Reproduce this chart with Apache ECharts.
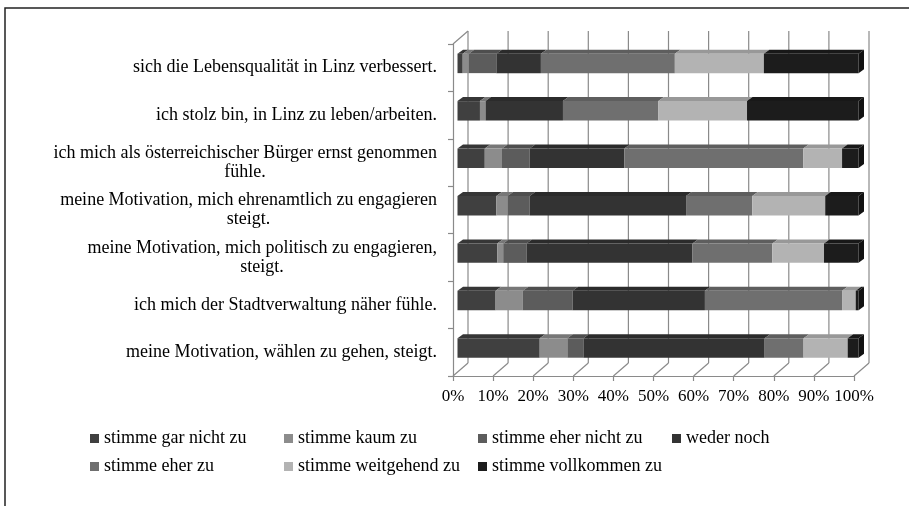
<!DOCTYPE html>
<html>
<head>
<meta charset="utf-8">
<script src="https://cdn.jsdelivr.net/npm/echarts@6/dist/echarts.min.js"></script>
<style>
html,body{margin:0;padding:0;background:#fff;}
#chart{width:909px;height:506px;}
</style>
</head>
<body>
<div id="chart"></div>
<script>
// ---- data ----
var categories = [
  'sich die Lebensqualität in Linz verbessert.',
  'ich stolz bin, in Linz zu leben/arbeiten.',
  'ich mich als österreichischer Bürger ernst genommen\nfühle.',
  'meine Motivation, mich ehrenamtlich zu engagieren\nsteigt.',
  'meine Motivation, mich politisch zu engagieren,\nsteigt.',
  'ich mich der Stadtverwaltung näher fühle.',
  'meine Motivation, wählen zu gehen, steigt.'
];
var seriesNames = ['stimme gar nicht zu','stimme kaum zu','stimme eher nicht zu','weder noch','stimme eher zu','stimme weitgehend zu','stimme vollkommen zu'];
var garNicht   = [1.3, 5.6, 6.8, 9.7, 9.9, 9.5, 20.5];
var kaum       = [1.5, 1.4, 4.3, 2.8, 1.5, 6.8, 6.9];
var eherNicht  = [6.9, 0.0, 6.9, 5.5, 5.8, 12.4, 4.0];
var wederNoch  = [11.1, 19.3, 23.6, 39.0, 41.4, 33.0, 45.2];
var eherZu     = [33.4, 23.8, 44.6, 16.5, 19.9, 34.2, 9.7];
var weitgehend = [22.2, 22.1, 9.7, 18.2, 12.9, 3.4, 11.0];
var vollkommen = [23.6, 27.8, 4.1, 8.3, 8.6, 0.7, 2.7];
var xTicks = [0, 10, 20, 30, 40, 50, 60, 70, 80, 90, 100];

// ---- styles ----
var colors = ['#404040','#8c8c8c','#5c5c5c','#333333','#6f6f6f','#b3b3b3','#1c1c1c'];
var FONT = '"Liberation Serif", "Times New Roman", serif';
var FS = 18;      // category labels & legend
var FS_AX = 17;   // x axis labels
var DX = 15, DY = -13;          // wall depth
var BOX = 4.5, BOY = -4.3;      // bar front face offset from front plane
var BDX = 5.5, BDY = -4;        // bar depth
var BAR_FRAC = 0.41;

var allVals = [garNicht, kaum, eherNicht, wederNoch, eherZu, weitgehend, vollkommen];

function shade(hex, f) {
  var n = parseInt(hex.slice(1), 16);
  var r = Math.round(((n >> 16) & 255) * f), g = Math.round(((n >> 8) & 255) * f), b = Math.round((n & 255) * f);
  return 'rgb(' + r + ',' + g + ',' + b + ')';
}

// cumulative segments (100% stacked)
var segData = allVals.map(function () { return []; });
for (var i = 0; i < categories.length; i++) {
  var tot = 0;
  allVals.forEach(function (arr) { tot += arr[i]; });
  var acc = 0;
  allVals.forEach(function (arr, k) {
    var s = acc / tot * 100;
    acc += arr[i];
    var e = acc / tot * 100;
    segData[k].push([i, s, e]);
  });
}

function renderBar(params, api) {
  var cat = api.value(0), s = api.value(1), e = api.value(2);
  if (e - s <= 1e-6) return;
  var p0 = api.coord([s, cat]), p1 = api.coord([e, cat]);
  var h = api.size([0, 1])[1] * BAR_FRAC;
  var x0 = p0[0] + BOX, x1 = p1[0] + BOX;
  var yc = p0[1] + BOY;
  var yt = yc - h / 2, yb = yc + h / 2;
  var c = api.visual('color');
  var children = [
    { type: 'polygon', shape: { points: [[x0, yt], [x1, yt], [x1 + BDX, yt + BDY], [x0 + BDX, yt + BDY]] },
      style: { fill: shade(c, 0.85), stroke: null } },
    { type: 'rect', shape: { x: x0, y: yt, width: x1 - x0, height: h },
      style: { fill: c, stroke: null } }
  ];
  if (e >= 99.999) {
    children.push({ type: 'polygon', shape: { points: [[x1, yt], [x1 + BDX, yt + BDY], [x1 + BDX, yb + BDY], [x1, yb]] },
      style: { fill: shade(c, 0.6), stroke: null } });
  }
  return { type: 'group', children: children };
}

function renderFrame(params, api) {
  var v = api.value(0);
  var p = api.coord([v, 0]);
  var cs = params.coordSys;
  var fy = cs.y + cs.height;
  var st = { stroke: '#8a8a8a', lineWidth: 1.2 };
  var children = [
    { type: 'line', shape: { x1: p[0], y1: fy, x2: p[0] + DX, y2: fy + DY }, style: st },
    { type: 'line', shape: { x1: p[0] + DX, y1: fy + DY, x2: p[0] + DX, y2: cs.y + DY }, style: st }
  ];
  if (v === xTicks[0]) {
    children.push({ type: 'line', shape: { x1: cs.x, y1: cs.y, x2: cs.x + DX, y2: cs.y + DY }, style: st });
  }
  return { type: 'group', children: children };
}

// label rich styles: second line centred under the first
var measureCtx = document.createElement('canvas').getContext('2d');
measureCtx.font = FS + 'px ' + FONT;
var rich = { a: { fontFamily: FONT, fontSize: FS, color: '#000', lineHeight: 19 } };
categories.forEach(function (c, idx) {
  var parts = c.split('\n');
  if (parts.length > 1) {
    rich['b' + idx] = { fontFamily: FONT, fontSize: FS, color: '#000', lineHeight: 19,
      width: Math.ceil(measureCtx.measureText(parts[0]).width), align: 'center' };
  }
});

var series = [{
  type: 'custom', name: '_frame', silent: true, z: 1,
  renderItem: renderFrame,
  encode: { x: 0, y: 1 },
  data: xTicks.map(function (v) { return [v, 0]; })
}];
seriesNames.forEach(function (n, k) {
  series.push({
    type: 'custom', name: n, z: 2,
    itemStyle: { color: colors[k] },
    renderItem: renderBar,
    encode: { x: [1, 2], y: 0 },
    data: segData[k]
  });
});

var chart = echarts.init(document.getElementById('chart'), null, { renderer: 'canvas' });
chart.setOption({
  animation: false,
  backgroundColor: '#fff',
  grid: { left: 453, right: 55, top: 44, bottom: 130, containLabel: false },
  xAxis: {
    type: 'value', min: 0, max: 100, interval: 10,
    axisLine: { show: true, lineStyle: { color: '#8a8a8a', width: 1.2 } },
    axisTick: { show: true, length: 5, lineStyle: { color: '#8a8a8a', width: 1.2 } },
    splitLine: { show: false },
    axisLabel: { formatter: '{value}%', fontFamily: FONT, fontSize: FS_AX, color: '#000', margin: 12 }
  },
  yAxis: {
    type: 'category', inverse: true, data: categories,
    axisLine: { show: true, lineStyle: { color: '#8a8a8a', width: 1.2 } },
    axisTick: { show: true, length: 5, lineStyle: { color: '#8a8a8a', width: 1.2 } },
    splitLine: { show: false },
    axisLabel: {
      margin: 16, align: 'right', fontFamily: FONT, fontSize: FS, color: '#000', lineHeight: 19,
      formatter: function (value, idx) {
        var parts = value.split('\n');
        if (parts.length > 1) return '{a|' + parts[0] + '}\n{b' + idx + '|' + parts[1] + '}';
        return '{a|' + value + '}';
      },
      rich: rich
    }
  },
  legend: {
    data: seriesNames,
    left: 85, top: 422, width: 790,
    orient: 'horizontal',
    icon: 'rect', itemWidth: 9, itemHeight: 9, itemGap: 5,
    textStyle: { fontFamily: FONT, fontSize: FS, color: '#000', width: 175, lineHeight: 23 }
  },
  graphic: [{
    type: 'polyline', silent: true,
    shape: { points: [[5, 506], [5, 8], [909, 8]] },
    style: { stroke: '#222', lineWidth: 1.5, fill: null }
  }],
  series: series
});
</script>
</body>
</html>
